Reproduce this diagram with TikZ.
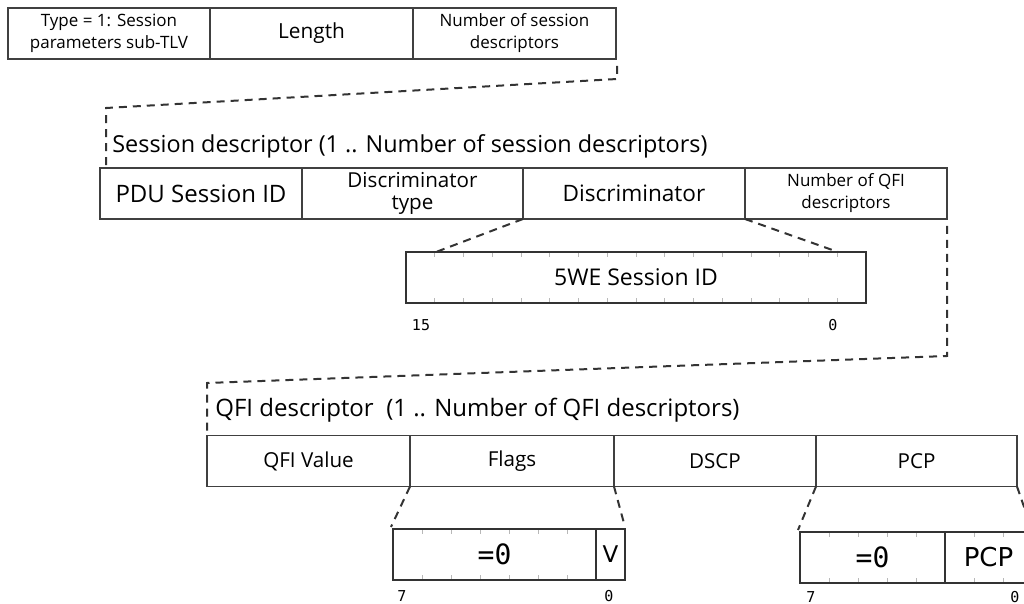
\documentclass[tikz,border=0pt]{standalone}
\usepackage{fontspec}
\setmainfont{Open Sans}
\newfontfamily\bitfont{DejaVu Sans Mono}
\newfontfamily\fieldfont{DejaVu Sans}
\usetikzlibrary{positioning}

\definecolor{linegray}{gray}{0.25}
\definecolor{boxgray}{gray}{0.2}
\definecolor{tickgray}{gray}{0.72}

\tikzset{
	cell/.style={draw=linegray, line width=0.6pt, minimum height=25.5pt, inner sep=0pt, outer sep=0pt, align=center, font=\fontsize{8.5}{11}\selectfont},
	bigcell/.style={cell, font=\fontsize{10.3}{11}\selectfont},
	bitbox/.style={draw=boxgray, line width=1pt, minimum height=25.5pt, inner sep=0pt, outer sep=0pt},
	link/.style={draw=boxgray, line width=1pt, dash pattern=on 4pt off 3pt},
	tick/.style={draw=tickgray, line width=0.5pt},
	bitno/.style={inner sep=0pt, font=\bitfont\fontsize{7.5}{8}\selectfont},
	heading/.style={anchor=west, inner sep=0pt, font=\fontsize{11.7}{13}\selectfont},
}

\begin{document}
\begin{tikzpicture}[x=0.5pt, y=-0.5pt]
	\useasboundingbox (0,0) rectangle (1024,604);

	% sub-TLV header
	\node[cell, minimum width=101pt] (tlvtype) at (109,33.5) {Type = 1: Session\\parameters sub-TLV};
	\node[cell, minimum width=101.5pt, right=0pt of tlvtype, font=\fontsize{10.4}{12}\selectfont] (tlvlen) {Length};
	\node[cell, minimum width=101.5pt, right=0pt of tlvlen] (tlvnum) {Number of session\\descriptors};

	\coordinate (a1) at (617,66);
	\coordinate (a2) at (617,79);
	\coordinate (a3) at (106,108);
	\coordinate (a4) at (106,166);
	\draw[link] (a1) -- (a2) -- (a3) -- (a4);

	% session descriptor
	\node[heading] (sdtitle) at (112,146) {Session descriptor (1 .. Number of session descriptors)};
	\node[cell, minimum width=101pt, font=\fontsize{12}{13}\selectfont] (pduid) at (201,193.5) {PDU Session ID};
	\node[cell, minimum width=110.5pt, right=0pt of pduid, font=\fontsize{10.3}{11.2}\selectfont] (disctype) {Discriminator\\type};
	\node[cell, minimum width=111pt, right=0pt of disctype, font=\fontsize{11.3}{12}\selectfont] (disc) {Discriminator};
	\node[cell, minimum width=101pt, right=0pt of disc] (numqfi) {Number of QFI\\descriptors};

	% discriminator bits
	\foreach \k in {1,...,15} {
		\draw[tick] (406+\k*28.75,252) -- ++(0,-2.5pt);
		\draw[tick] (406+\k*28.75,303) -- ++(0,2.5pt);
	}
	\node[bitbox, minimum width=230pt, font=\fontsize{11.5}{13}\selectfont] (sid) at (636,277.5) {5WE Session ID};
	\node[bitno] (sidhi) at (421,325) {15};
	\node[bitno] (sidlo) at (833,325) {0};
	\draw[link] (disc.south west) -- ([xshift=15pt]sid.north west);
	\draw[link] (numqfi.south west) -- ([xshift=-14pt]sid.north east);

	\coordinate (b1) at (947,226);
	\coordinate (b2) at (947,356);
	\coordinate (b3) at (207,383);
	\coordinate (b4) at (207,432);
	\draw[link] (b1) -- (b2) -- (b3) -- (b4);

	% QFI descriptor
	\node[heading, font=\fontsize{12}{13}\selectfont] (qfititle) at (215,410) {QFI descriptor\ \ (1 .. Number of QFI descriptors)};
	\node[bigcell, minimum width=101.5pt] (qfival) at (308.5,461) {QFI Value};
	\node[bigcell, minimum width=102pt, right=0pt of qfival, line width=0.9pt] (flags) {Flags};
	\node[bigcell, minimum width=101pt, right=0pt of flags] (dscp) {DSCP};
	\node[bigcell, minimum width=100.5pt, right=0pt of dscp] (pcp) {PCP};

	% flags bits
	\foreach \k in {1,...,6} {
		\draw[tick] (393+\k*29,529) -- ++(0,-2.5pt);
		\draw[tick] (393+\k*29,580) -- ++(0,2.5pt);
	}
	\node[bitbox, minimum width=101.5pt, font=\bitfont\fontsize{14}{16}\selectfont] (flagzero) at (494.5,554.5) {=0};
	\node[bitbox, minimum width=14.5pt, right=0pt of flagzero, font=\fieldfont\fontsize{11.5}{14}\selectfont] (flagv) {V};
	\node[bitno] (flaghi) at (402,596) {7};
	\node[bitno] (flaglo) at (609,596) {0};
	\draw[link] (flags.south west) -- ([xshift=-1pt,yshift=1pt]flagzero.north west);
	\draw[link] (flags.south east) -- ([yshift=1pt]flagv.north east);

	% pcp bits
	\foreach \k in {1,...,4} {
		\draw[tick] (800+\k*29,532) -- ++(0,-2.5pt);
		\draw[tick] (800+\k*29,583) -- ++(0,2.5pt);
	}
	\foreach \k in {1,2} {
		\draw[tick] (945+\k*29,532) -- ++(0,-2.5pt);
		\draw[tick] (945+\k*29,583) -- ++(0,2.5pt);
	}
	\node[bitbox, minimum width=72.5pt, font=\bitfont\fontsize{14}{16}\selectfont] (pcpzero) at (872.5,557.5) {=0};
	\node[bitbox, minimum width=43.5pt, right=0pt of pcpzero, font=\fieldfont\fontsize{13}{15}\selectfont] (pcpval) {PCP};
	\node[bitno] (pcphi) at (811,597) {7};
	\node[bitno] (pcplo) at (1015,597) {0};
	\draw[link] (pcp.south west) -- ([xshift=-1pt,yshift=1pt]pcpzero.north west);
	\draw[link] (pcp.south east) -- ([yshift=1pt]pcpval.north east);
\end{tikzpicture}
\end{document}
